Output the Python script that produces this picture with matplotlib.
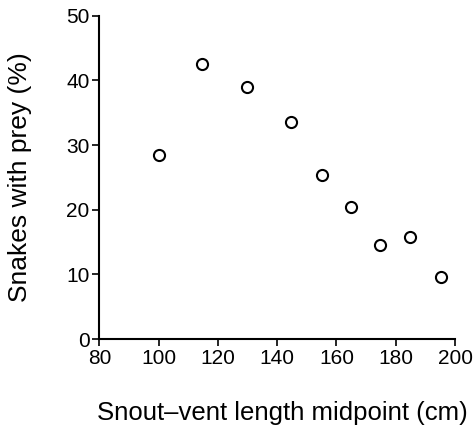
import matplotlib
matplotlib.use("Agg")
import matplotlib.pyplot as plt

plt.rcParams['font.family'] = ['Liberation Sans', 'DejaVu Sans']

svl_midpoint = [100, 114.5, 129.7, 144.6, 155, 164.9, 174.8, 184.7, 195.1]
pct_with_prey = [28.5, 42.6, 39.0, 33.5, 25.4, 20.35, 14.5, 15.8, 9.6]

x_ticks = [80, 100, 120, 140, 160, 180, 200]
y_ticks = [0, 10, 20, 30, 40, 50]

fig = plt.figure(figsize=(4.73, 4.26), dpi=100)
ax = fig.add_axes([0.210, 0.204, 0.752, 0.759])

ax.plot(svl_midpoint, pct_with_prey, 'o', markerfacecolor='white',
        markeredgecolor='black', markersize=8, markeredgewidth=1.5)

ax.set_xlim(80, 200)
ax.set_ylim(0, 50)
ax.set_xticks(x_ticks)
ax.set_yticks(y_ticks)
ax.tick_params(direction='out', length=5, width=1.2, labelsize=15, pad=2)

for side in ['top', 'right']:
    ax.spines[side].set_visible(False)
for side in ['left', 'bottom']:
    ax.spines[side].set_linewidth(1.5)

ax.set_xlabel('Snout\u2013vent length midpoint (cm)', fontsize=18.5)
ax.set_ylabel('Snakes with prey (%)', fontsize=19)
ax.xaxis.set_label_coords(0.515, -0.19)
ax.yaxis.set_label_coords(-0.19, 0.5)

fig.savefig('out.png', dpi=100)
